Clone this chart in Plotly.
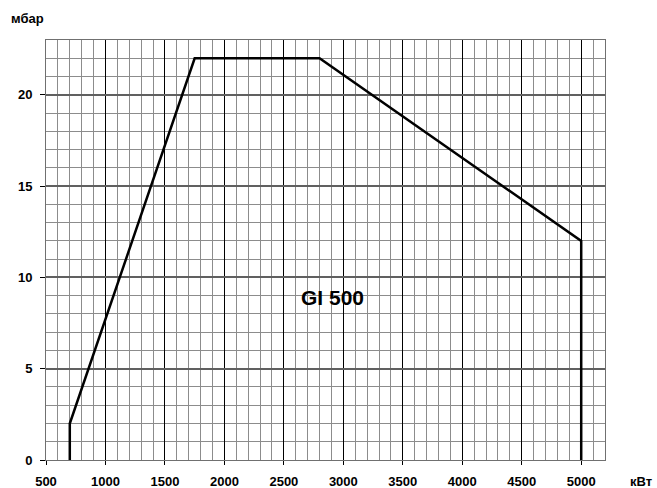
import plotly.graph_objects as go

# Data
power_kw = [700, 700, 1750, 2800, 5000, 5000]
pressure_mbar = [0, 2, 22, 22, 12, 0]
x_ticks = [500, 1000, 1500, 2000, 2500, 3000, 3500, 4000, 4500, 5000]
y_ticks = [0, 5, 10, 15, 20]
label_text = "GI 500"
label_pos = (2912, 8.9)

FONT = "Arial, Liberation Sans, sans-serif"

W, H = 657, 488
L, R, T, B = 46, 52, 40, 28
pw, ph = W - L - R, H - T - B

def px2paper(px, py):
    return (px - L) / pw, (H - B - py) / ph

fig = go.Figure()
fig.add_trace(go.Scatter(x=power_kw, y=pressure_mbar, mode="lines",
                         line=dict(color="black", width=2.5), hoverinfo="skip",
                         showlegend=False))

mx, my = px2paper(9, 19)
kx, ky = px2paper(654, 481)

fig.update_layout(
    width=W, height=H,
    margin=dict(l=L, r=R, t=T, b=B),
    paper_bgcolor="white", plot_bgcolor="white",
    font=dict(family=FONT, size=13, color="black"),
    xaxis=dict(range=[500, 5200], tickvals=x_ticks, ticks="outside", ticklen=4,
               tickcolor="black", tickfont=dict(family=FONT, size=13, weight="bold"),
               ticklabelstandoff=5,
               showgrid=True, gridcolor="black", gridwidth=1,
               minor=dict(dtick=100, tick0=500, showgrid=True, gridcolor="#8c8c8c", gridwidth=1),
               showline=True, linecolor="#707070", linewidth=1, mirror=True,
               zeroline=False, fixedrange=True, automargin=False),
    yaxis=dict(range=[0, 23], tickvals=y_ticks, ticks="outside", ticklen=5,
               tickcolor="black", tickfont=dict(family=FONT, size=13, weight="bold"),
               ticklabelstandoff=5,
               showgrid=True, gridcolor="#606060", gridwidth=1.5,
               minor=dict(dtick=1, tick0=0, showgrid=True, gridcolor="#8c8c8c", gridwidth=1),
               showline=True, linecolor="#707070", linewidth=1, mirror=True,
               zeroline=False, fixedrange=True, automargin=False),
    annotations=[
        dict(x=label_pos[0], y=label_pos[1], xref="x", yref="y", text=label_text,
             showarrow=False, font=dict(family=FONT, size=21, weight="bold")),
        dict(x=mx, y=my, xref="paper", yref="paper", text="мбар", showarrow=False,
             xanchor="left", yanchor="middle",
             font=dict(family=FONT, size=13, weight="bold")),
        dict(x=kx, y=ky, xref="paper", yref="paper", text="кВт", showarrow=False,
             xanchor="right", yanchor="middle",
             font=dict(family=FONT, size=13, weight="bold")),
    ],
)

# remove the default page margin so the figure fills the window without scrollbars
fig.write_html(
    "out.html",
    config={"displayModeBar": False},
    post_script="document.body.style.margin='0';document.body.style.overflow='hidden';",
)
